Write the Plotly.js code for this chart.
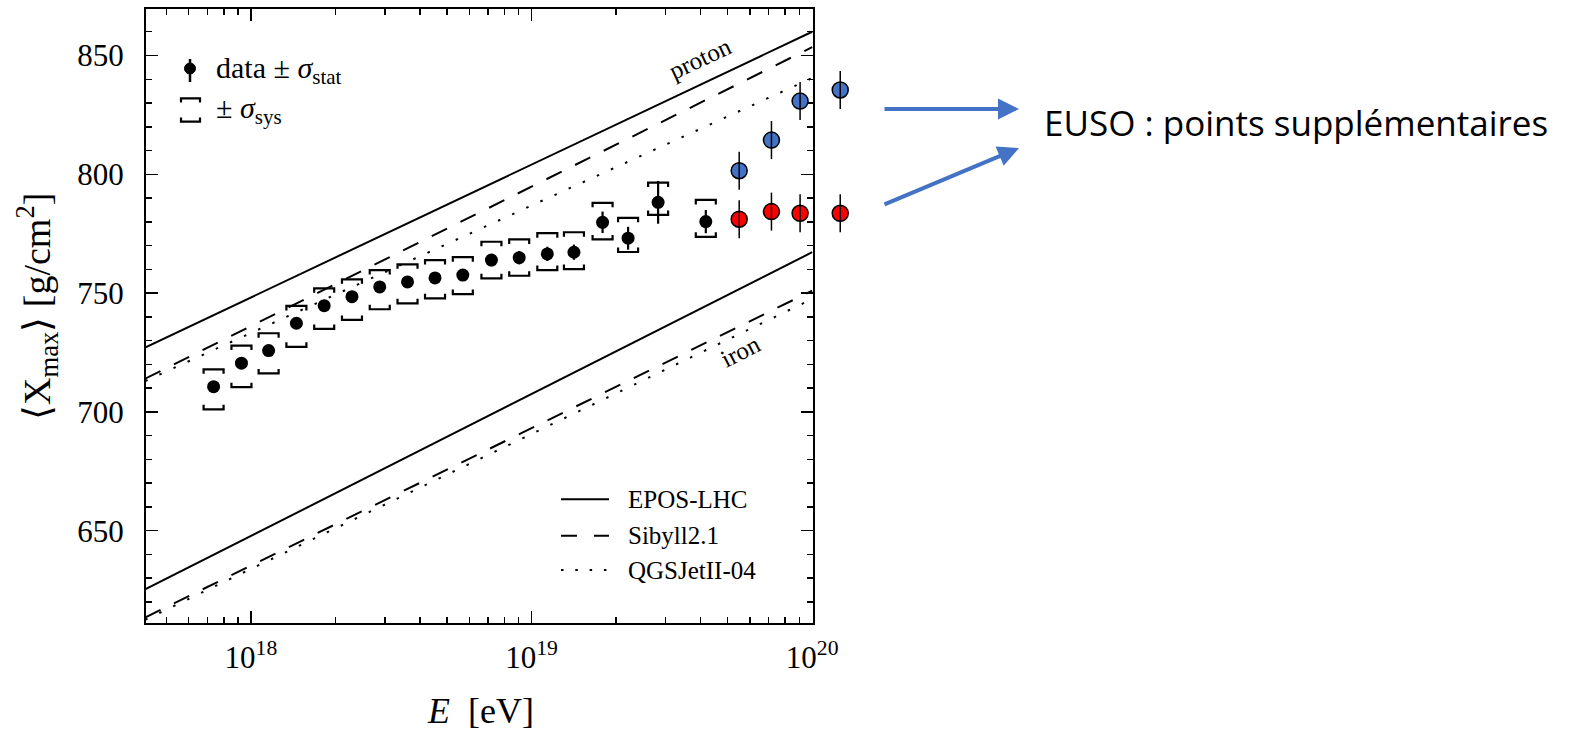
<!DOCTYPE html>
<html>
<head>
<meta charset="utf-8">
<script src="https://cdn.plot.ly/plotly-3.0.1.min.js"></script>
<style>html,body{margin:0;padding:0;background:#fff;}#chart{width:1582px;height:731px;}</style>
</head>
<body>
<div id="chart"></div>
<script>
// ---------- DATA ----------
// Auger data (energy in eV, <Xmax> in g/cm2)
const energy = [7.36e17, 9.25e17, 1.156e18, 1.452e18, 1.824e18, 2.291e18, 2.877e18, 3.614e18, 4.529e18,
                5.689e18, 7.194e18, 9.036e18, 1.138e19, 1.416e19, 1.791e19, 2.208e19, 2.825e19, 4.178e19];
const xmax   = [710.6, 720.5, 725.8, 737.3, 744.7, 748.5, 752.6, 754.7, 756.4,
                757.6, 763.9, 764.9, 766.5, 767.2, 779.8, 773.1, 788.2, 780.1];
const statErr = [1.5, 1.5, 1.6, 1.7, 1.8, 1.9, 2.0, 2.1, 2.2, 2.4, 2.6, 2.8, 3.0, 3.2, 4.5, 4.8, 9.0, 4.9];
const sysUp   = [7.3, 7.4, 7.3, 7.3, 7.3, 7.3, 7.1, 7.4, 7.5, 7.5, 7.7, 7.7, 8.7, 8.4, 8.2, 8.6, 8.3, 9.1];
const sysDown = [9.5, 10.1, 9.6, 9.9, 9.8, 9.8, 9.4, 9.0, 8.6, 8.0, 7.7, 7.6, 6.8, 7.1, 7.2, 5.8, 5.3, 6.4];

// EUSO additional points
const eusoEnergy = [5.495e19, 7.161e19, 9.057e19, 1.259e20];
const eusoBlue   = [801.5, 814.4, 830.8, 835.5];
const eusoRed    = [781.1, 784.3, 783.6, 783.6];
const eusoErr    = [8, 8, 8, 8];

// Model predictions (end points of straight lines in lg E)
const modelEnergy   = [4.2e17, 1.0e20];
const protonEPOS    = [727.1, 860.0];
const protonSibyll  = [714.0, 853.5];
const protonQGSJet  = [713.0, 840.5];
const ironEPOS      = [625.3, 767.2];
const ironSibyll    = [613.5, 751.0];
const ironQGSJet    = [612.5, 747.5];

const xTickVals = [1e18, 1e19, 1e20];
const xTickText = ['10<sup>18</sup>', '10<sup>19</sup>', '10<sup>20</sup>'];
const xMinorVals = [5e17, 6e17, 7e17, 8e17, 9e17, 2e18, 3e18, 4e18, 5e18, 6e18, 7e18, 8e18, 9e18,
                    2e19, 3e19, 4e19, 5e19, 6e19, 7e19, 8e19, 9e19];

const modelNames = ['EPOS-LHC', 'Sibyll2.1', 'QGSJetII-04'];
const legendTexts = ['data ± <i>σ</i><sub>stat</sub>', '± <i>σ</i><sub>sys</sub>'];

// ---------- LAYOUT HELPERS ----------
const W = 1582, H = 731;
const L = 146, R = 813, RP = 870, T = 9, B = 623;   // R: frame right edge, RP: extended plot area
const xLo = 17.626, xHi = 20.003;
const decadePx = (R - L) / (xHi - xLo);
const px = x => (x - L) / (RP - L);
const py = y => (B - y) / (B - T);

const SERIF = 'Liberation Serif, Times New Roman, serif';
const BLUE = '#4472C4';
const dashStyle = '17px,15px';
const dotStyle = '2.5px,13px';

const traces = [];
function modelLine(y, dash) {
  return {x: modelEnergy, y: y, mode: 'lines', type: 'scatter', showlegend: false, hoverinfo: 'skip',
          line: {color: 'black', width: 2, dash: dash}};
}
traces.push(modelLine(protonEPOS, 'solid'));
traces.push(modelLine(protonSibyll, dashStyle));
traces.push(modelLine(protonQGSJet, dotStyle));
traces.push(modelLine(ironEPOS, 'solid'));
traces.push(modelLine(ironSibyll, dashStyle));
traces.push(modelLine(ironQGSJet, dotStyle));

traces.push({x: energy, y: xmax, type: 'scatter', mode: 'markers', showlegend: false,
  marker: {color: 'black', size: 13},
  error_y: {type: 'data', array: statErr, visible: true, color: 'black', thickness: 2.2, width: 0}});

// EUSO points on an invisible, wider x axis with the same scale (they extend past the frame)
traces.push({x: eusoEnergy, y: eusoBlue, xaxis: 'x2', yaxis: 'y', type: 'scatter', mode: 'markers', showlegend: false,
  marker: {color: BLUE, size: 16, line: {color: 'black', width: 1.5}}});
traces.push({x: eusoEnergy, y: eusoRed, xaxis: 'x2', yaxis: 'y', type: 'scatter', mode: 'markers', showlegend: false,
  marker: {color: '#FF0000', size: 16, line: {color: 'black', width: 1.5}}});
[eusoBlue, eusoRed].forEach(v => traces.push({x: eusoEnergy, y: v, xaxis: 'x2', yaxis: 'y', type: 'scatter', mode: 'markers',
  showlegend: false, marker: {size: 1, opacity: 0},
  error_y: {type: 'data', array: eusoErr, visible: true, color: 'black', thickness: 1.5, width: 0}}));

// ---------- SHAPES ----------
const shapes = [];
energy.forEach((e, i) => {
  shapes.push({type: 'path', xref: 'x', yref: 'y', xsizemode: 'pixel', ysizemode: 'pixel',
    xanchor: e, yanchor: xmax[i] + sysUp[i], path: 'M -10 -4.5 L -10 0 L 10 0 L 10 -4.5',
    line: {color: 'black', width: 2.2}});
  shapes.push({type: 'path', xref: 'x', yref: 'y', xsizemode: 'pixel', ysizemode: 'pixel',
    xanchor: e, yanchor: xmax[i] - sysDown[i], path: 'M -10 4.5 L -10 0 L 10 0 L 10 4.5',
    line: {color: 'black', width: 2.2}});
});
// legend glyphs
shapes.push({type: 'line', xref: 'paper', yref: 'paper', x0: px(190), x1: px(190), y0: py(59), y1: py(82),
  line: {color: 'black', width: 2.5}});
shapes.push({type: 'circle', xref: 'paper', yref: 'paper', x0: px(184.5), x1: px(195.5), y0: py(74), y1: py(63),
  fillcolor: 'black', line: {color: 'black', width: 1}});
const pth = pts => pts.map((p, k) => (k ? 'L ' : 'M ') + px(p[0]) + ' ' + py(p[1])).join(' ');
shapes.push({type: 'path', xref: 'paper', yref: 'paper', path: pth([[181, 102.5], [181, 98.3], [200, 98.3], [200, 102.5]]),
  line: {color: 'black', width: 2.2}});
shapes.push({type: 'path', xref: 'paper', yref: 'paper', path: pth([[181, 117.5], [181, 121.7], [200, 121.7], [200, 117.5]]),
  line: {color: 'black', width: 2.2}});
const legRows = [499.3, 535.7, 570];
const legDash = ['solid', '16px,17px', '2.5px,11.8px'];
legRows.forEach((r, k) => shapes.push({type: 'line', xref: 'paper', yref: 'paper',
  x0: px(561), x1: px(609), y0: py(r), y1: py(r), line: {color: 'black', width: 2, dash: legDash[k]}}));

// ---------- ANNOTATIONS ----------
const annotations = [];
const txt = (x, y, text, size, opts) => Object.assign({xref: 'paper', yref: 'paper', x: px(x), y: py(y), text: text,
  showarrow: false, xanchor: 'left', yanchor: 'middle', font: {family: SERIF, size: size, color: 'black'}}, opts || {});
annotations.push(txt(214, 70, legendTexts[0], 30));
annotations.push(txt(214, 110, legendTexts[1], 30));
modelNames.forEach((n, k) => annotations.push(txt(626, legRows[k], n, 25)));
annotations.push(txt(700, 58, 'proton', 25, {xanchor: 'center', textangle: -25}));
annotations.push(txt(740, 351, 'iron', 25, {xanchor: 'center', textangle: -27}));
annotations.push(txt(480, 711, '<i>E</i>&nbsp; [eV]', 36, {xanchor: 'center'}));
annotations.push(txt(37, 307, '⟨X<sub>max</sub>⟩&nbsp;[g/cm<sup>2</sup>]', 38, {xanchor: 'center', textangle: -90}));
// arrows and EUSO text
annotations.push({xref: 'paper', yref: 'paper', x: px(1019), y: py(109), ax: -136, ay: 0, axref: 'pixel', ayref: 'pixel',
  text: '', showarrow: true, arrowhead: 2, arrowsize: 1.05, arrowwidth: 4, arrowcolor: BLUE, standoff: 0, startstandoff: 0});
annotations.push({xref: 'paper', yref: 'paper', x: px(1019), y: py(148), ax: -136, ay: 57, axref: 'pixel', ayref: 'pixel',
  text: '', showarrow: true, arrowhead: 2, arrowsize: 1.05, arrowwidth: 4, arrowcolor: BLUE, standoff: 0, startstandoff: 0});
annotations.push({xref: 'paper', yref: 'paper', x: px(1042), y: py(123), xanchor: 'left', yanchor: 'middle', showarrow: false,
  text: 'EUSO : points supplémentaires', font: {family: 'Open Sans, Noto Sans, sans-serif', size: 35, color: 'black'}});

const axFont = {family: SERIF, size: 31, color: 'black'};
const layout = {
  width: W, height: H,
  margin: {l: L, r: W - RP, t: T, b: H - B, pad: 0},
  paper_bgcolor: 'white', plot_bgcolor: 'rgba(0,0,0,0)',
  showlegend: false,
  xaxis: {type: 'log', range: [xLo, xHi], domain: [0, (R - L) / (RP - L)], anchor: 'y',
    showgrid: false, zeroline: false,
    showline: true, linecolor: 'black', linewidth: 2, mirror: 'ticks',
    ticks: 'inside', ticklen: 12, tickwidth: 1.5, tickcolor: 'black',
    tickmode: 'array', tickvals: xTickVals, ticktext: xTickText,
    tickfont: axFont, ticklabelstandoff: 6,
    minor: {ticks: 'inside', ticklen: 6, tickwidth: 1.5, tickcolor: 'black', tickmode: 'array', tickvals: xMinorVals, showgrid: false}},
  xaxis2: {type: 'log', range: [xLo, xLo + (RP - L) / decadePx], domain: [0, 1], anchor: 'y', visible: false,
    showgrid: false, zeroline: false},
  yaxis: {range: [611.15, 869.57], anchor: 'x', showgrid: false, zeroline: false,
    showline: true, linecolor: 'black', linewidth: 2, mirror: 'ticks',
    ticks: 'inside', ticklen: 12, tickwidth: 1.5, tickcolor: 'black',
    tick0: 0, dtick: 50,
    tickfont: axFont, ticklabelstandoff: 14,
    minor: {ticks: 'inside', ticklen: 6, tickwidth: 1.5, tickcolor: 'black', dtick: 10, showgrid: false}},
  shapes: shapes,
  annotations: annotations
};

Plotly.newPlot('chart', traces, layout, {staticPlot: true, displayModeBar: false});
</script>
</body>
</html>
